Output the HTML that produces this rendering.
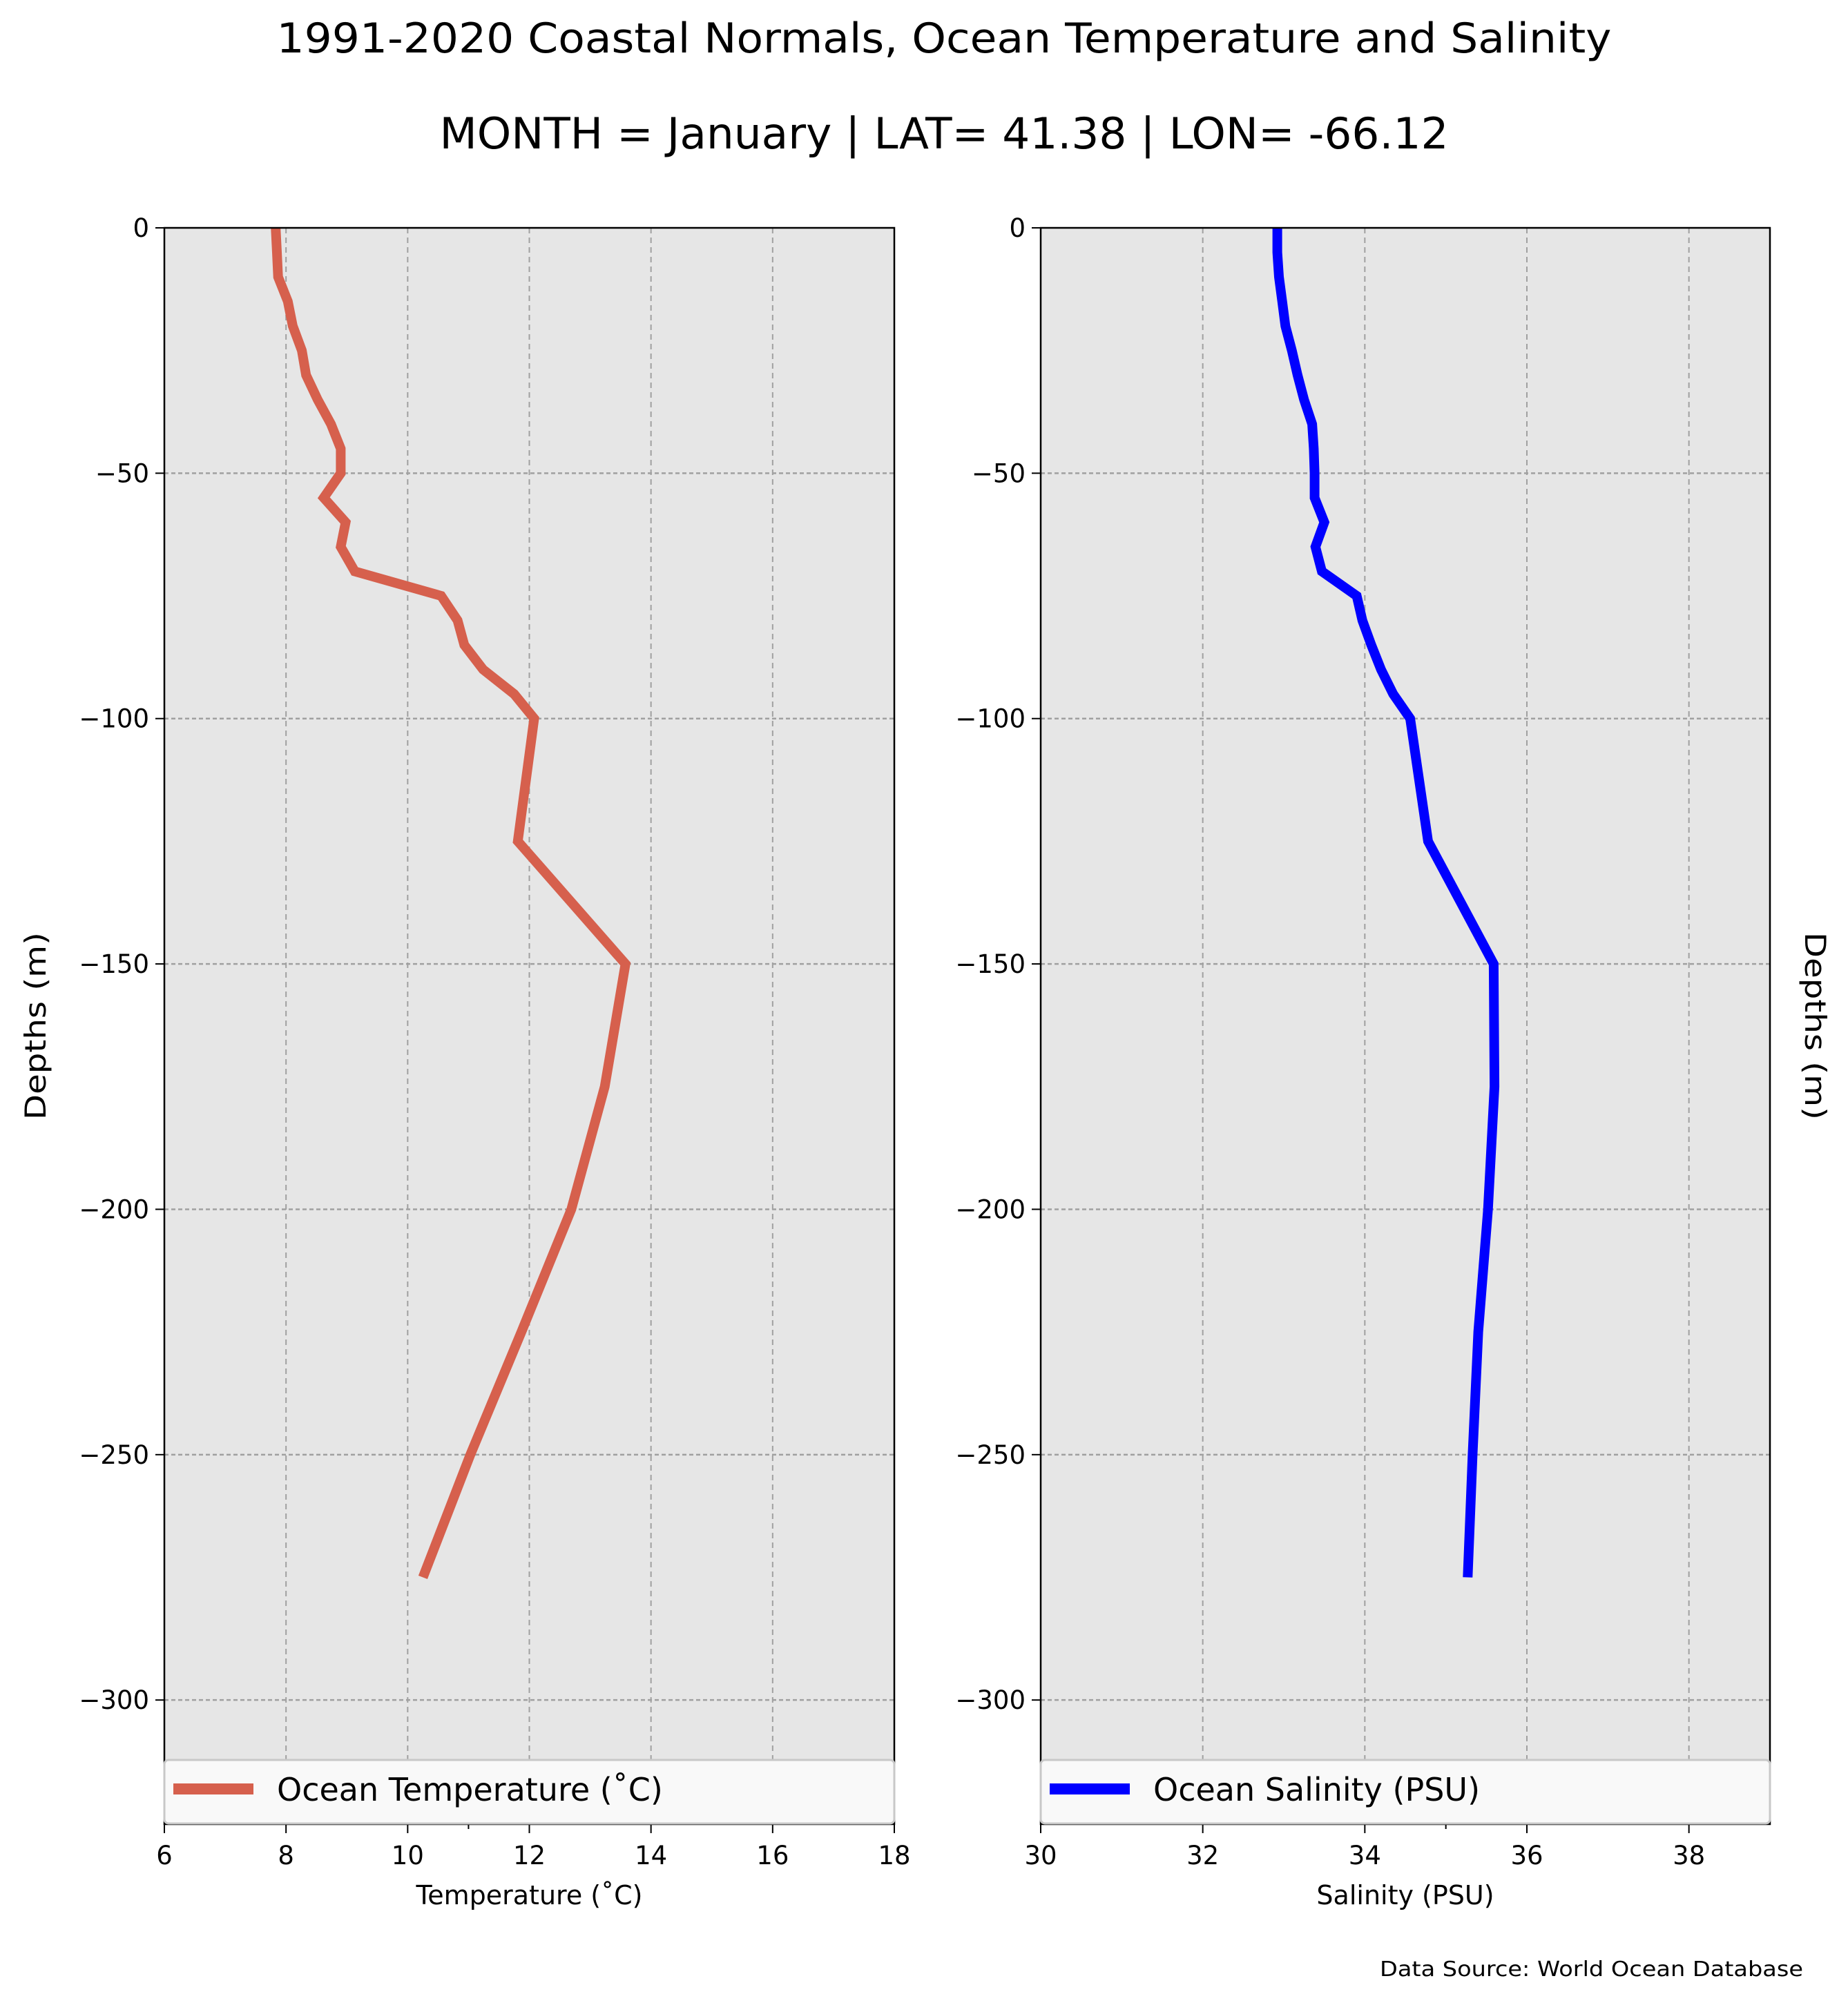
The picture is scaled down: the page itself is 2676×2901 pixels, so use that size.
<!DOCTYPE html>
<html><head><meta charset="utf-8"><style>
html,body{margin:0;padding:0;background:#fff}
svg{display:block;font-family:"DejaVu Sans","Liberation Sans",sans-serif}
</style></head><body>
<svg id="chart" width="2676" height="2901" viewBox="0 0 2676 2901" xmlns="http://www.w3.org/2000/svg">
<text x="1367" y="76" font-size="60" text-anchor="middle" textLength="1933" lengthAdjust="spacingAndGlyphs">1991-2020 Coastal Normals, Ocean Temperature and Salinity</text>
<text x="1367" y="215" font-size="62" text-anchor="middle" textLength="1461" lengthAdjust="spacingAndGlyphs">MONTH = January | LAT= 41.38 | LON= -66.12</text>
<g id="left"></g>
<g id="right"></g>
<text transform="translate(66,1486) rotate(-90)" font-size="42" text-anchor="middle" textLength="272" lengthAdjust="spacingAndGlyphs">Depths (m)</text>
<text transform="translate(2614,1486) rotate(90)" font-size="42" text-anchor="middle" textLength="272" lengthAdjust="spacingAndGlyphs">Depths (m)</text>
<text x="2611" y="2862" font-size="30" text-anchor="end" textLength="613" lengthAdjust="spacingAndGlyphs">Data Source: World Ocean Database</text>
</svg>
<script>
const depths = [0,5,10,15,20,25,30,35,40,45,50,55,60,65,70,75,80,85,90,95,100,125,150,175,200,225,250,275];
const temperature = [7.83,7.85,7.87,8.03,8.11,8.26,8.33,8.52,8.74,8.9,8.9,8.62,8.98,8.9,9.13,10.55,10.82,10.93,11.24,11.75,12.08,11.81,13.58,13.24,12.69,11.87,11.03,10.25];
const salinity = [32.92,32.92,32.94,32.98,33.02,33.1,33.17,33.25,33.35,33.37,33.38,33.38,33.5,33.39,33.47,33.9,33.97,34.08,34.2,34.35,34.56,34.78,35.59,35.6,35.52,35.4,35.33,35.27];
const depthTicks = [0,-50,-100,-150,-200,-250,-300];
const tempTicks = [6,8,10,12,14,16,18];
const salTicks = [30,32,34,36,38];

const NS='http://www.w3.org/2000/svg';
const TOP=330, BOT=2642, YMIN=-325.3;
function yScale(d){return TOP + (0-d)/(0-YMIN)*(BOT-TOP);}
function mk(tag,attrs,parent){const e=document.createElementNS(NS,tag);for(const k in attrs)e.setAttribute(k,attrs[k]);parent.appendChild(e);return e;}

function panel(g, cfg){
  const xs=v=>cfg.x0+(v-cfg.min)/(cfg.max-cfg.min)*(cfg.x1-cfg.x0);
  const bg=mk('rect',{x:cfg.x0,y:TOP,width:cfg.x1-cfg.x0,height:BOT-TOP,fill:'#e6e6e6'},g);
  
  
  cfg.ticks.forEach(t=>{
    const X=xs(t);
    const gl=mk('line',{x1:X,x2:X,y1:TOP,y2:BOT,stroke:'#a0a0a0','stroke-width':2,'stroke-dasharray':'8,6'},g);
    
    
    const tk=mk('line',{x1:X,x2:X,y1:BOT,y2:BOT+13,stroke:'#000','stroke-width':2},g);
    
    
    const tl=mk('text',{x:X,y:2700,'font-size':37,'text-anchor':'middle'},g);
    tl.textContent=String(t);
    
    
  });
  const mt=mk('line',{x1:xs(cfg.minor),x2:xs(cfg.minor),y1:BOT,y2:BOT+7,stroke:'#000','stroke-width':2},g);
  
  
  depthTicks.forEach(d=>{
    const Y=yScale(d);
    if(d!==0){
      const gl=mk('line',{x1:cfg.x0,x2:cfg.x1,y1:Y,y2:Y,stroke:'#a0a0a0','stroke-width':2.5,'stroke-dasharray':'6,4'},g);
      
      
    }
    const tk=mk('line',{x1:cfg.x0-13,x2:cfg.x0,y1:Y,y2:Y,stroke:'#000','stroke-width':2},g);
    
    
    const tl=mk('text',{x:cfg.x0-22,y:Y+13,'font-size':37,'text-anchor':'end'},g);
    tl.textContent=(d<0?'\u2212':'')+Math.abs(d);
    
    
  });
  const pts=depths.map((d,i)=>xs(cfg.vals[i]).toFixed(1)+','+yScale(-d).toFixed(1)).join(' ');
  const ln=mk('polyline',{points:pts,fill:'none',stroke:cfg.color,'stroke-width':14,'stroke-linejoin':'miter'},g);
  
  
  const fr=mk('rect',{x:cfg.x0,y:TOP,width:cfg.x1-cfg.x0,height:BOT-TOP,fill:'none',stroke:'#000','stroke-width':2.5},g);
  
  
  const lg=mk('g',{},g);
  
  
  mk('rect',{x:cfg.x0,y:2549,width:cfg.x1-cfg.x0,height:92,rx:6,fill:'#f9f9f9',stroke:'#c8c8c8','stroke-width':3},lg);
  mk('line',{x1:cfg.x0+13,x2:cfg.x0+129,y1:2591,y2:2591,stroke:cfg.color,'stroke-width':16},lg);
  const lt=mk('text',{x:cfg.x0+163,y:2608,'font-size':46},lg);
  lt.textContent=cfg.legend;
  const xl=mk('text',{x:(cfg.x0+cfg.x1)/2,y:2758,'font-size':38,'text-anchor':'middle'},g);
  xl.textContent=cfg.xlabel;
  
  
}
panel(document.getElementById('left'),{key:'temperature',x0:238,x1:1295,min:6,max:18,ticks:tempTicks,minor:11,vals:temperature,color:'#d6604d',legend:'Ocean Temperature (\u02DAC)',xlabel:'Temperature (\u02DAC)'});
panel(document.getElementById('right'),{key:'salinity',x0:1507,x1:2563,min:30,max:39,ticks:salTicks,minor:35,vals:salinity,color:'#0000ff',legend:'Ocean Salinity (PSU)',xlabel:'Salinity (PSU)'});
</script>
</body></html>
